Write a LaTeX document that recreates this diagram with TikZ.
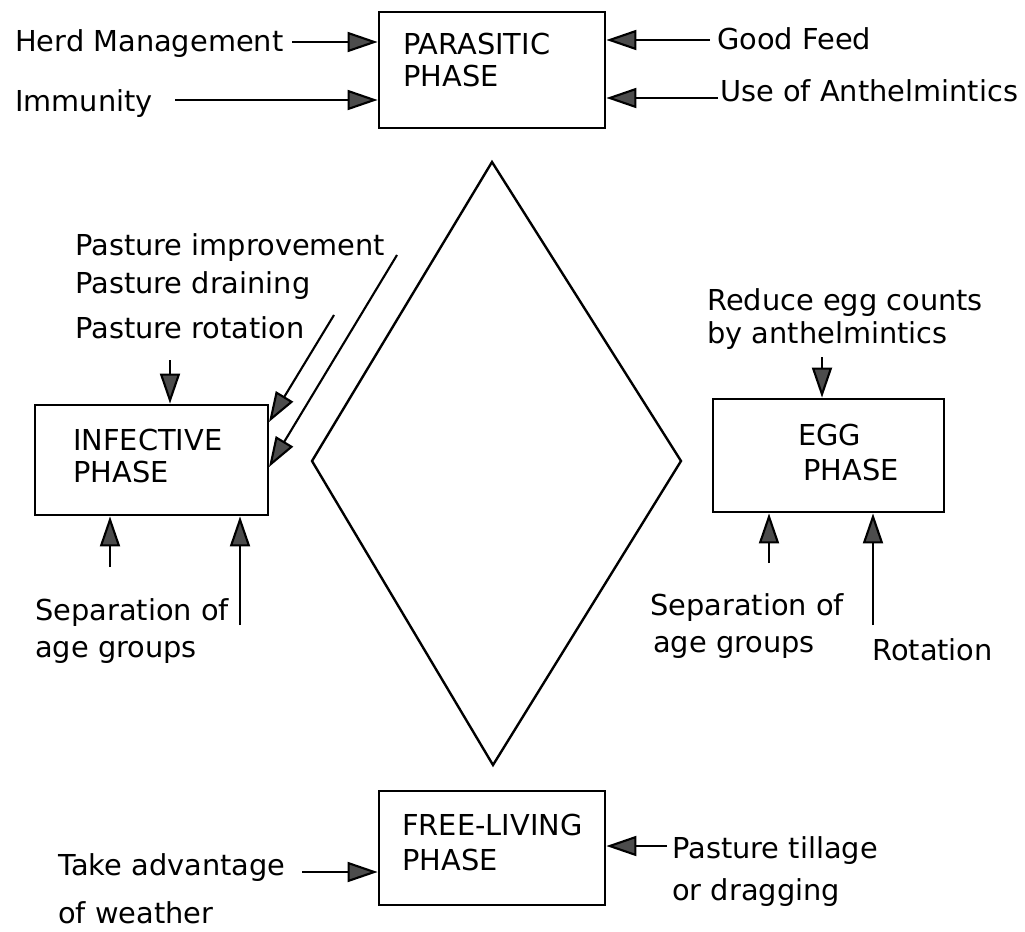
\documentclass[tikz,border=0pt]{standalone}
\usepackage{fontspec}
\setmainfont{DejaVu Sans}
\usetikzlibrary{arrows.meta,fit}
\definecolor{arrowgray}{gray}{0.3}

\begin{document}
\begin{tikzpicture}[
    x = 0.025cm, % one unit per pixel
    y = -0.025cm, % y grows downwards
    font = \fontsize{20.5}{24}\selectfont,
    phasebox/.style = {draw, line width=2pt, inner sep=0pt},
    lbl/.style = {anchor=base west, inner sep=0pt},
    feed/.style = {-{Triangle[length=0.75cm, width=0.5cm, fill=arrowgray]}, line width=1.5pt}
]
\useasboundingbox (0,0) rectangle (1025,932);

% Boxes
\node[phasebox, fit={(379,12) (605,128)}] (par) {};
\node[phasebox, fit={(35,405) (268,515)}] (inf) {};
\node[phasebox, fit={(713,399) (944,512)}] (egg) {};
\node[phasebox, fit={(379,791) (605,905)}] (free) {};

% Box texts
\node[lbl] (partxt1) at (403,55) {PARASITIC};
\node[lbl] (partxt2) at (403,87) {PHASE};
\node[lbl] (inftxt1) at (73,450) {INFECTIVE};
\node[lbl] (inftxt2) at (73,482) {PHASE};
\node[lbl] (eggtxt1) at (798,445) {EGG};
\node[lbl] (eggtxt2) at (803,480) {PHASE};
\node[lbl] (freetxt1) at (402,835) {FREE-LIVING};
\node[lbl] (freetxt2) at (402,870) {PHASE};

% Diamond
\coordinate (dtop) at (492,162);
\coordinate (dright) at (681,461);
\coordinate (dbottom) at (493,765);
\coordinate (dleft) at (312,461);
\draw[line width=1.7pt] (dtop) -- (dright) -- (dbottom) -- (dleft) -- cycle;

% Parasitic phase
\node[lbl] (herd) at (15,52) {Herd Management};
\node[lbl] (immun) at (15,112) {Immunity};
\node[lbl] (feedtxt) at (717,50) {Good Feed};
\node[lbl] (anth) at (720,102) {Use of Anthelmintics};
\coordinate (herdtail) at (292,42);
\coordinate (immuntail) at (175,100);
\coordinate (feedtail) at (710,40);
\coordinate (anthtail) at (718,98);
\draw[feed] (herdtail) -- (herdtail -| par.west);
\draw[feed] (immuntail) -- (immuntail -| par.west);
\draw[feed] (feedtail) -- (feedtail -| par.east);
\draw[feed] (anthtail) -- (anthtail -| par.east);

% Infective phase
\node[lbl] (improve) at (75,255) {Pasture improvement};
\node[lbl] (drain) at (75,293) {Pasture draining};
\node[lbl] (rot) at (75,338) {Pasture rotation};
\node[lbl] (sep1a) at (35,620) {Separation of};
\node[lbl] (sep1b) at (35,657) {age groups};
\coordinate (rottail) at (170,360);
\coordinate (diag1tail) at (334,315);
\coordinate (diag1tip) at (269,422);
\coordinate (diag2tail) at (397,255);
\coordinate (diag2tip) at (269,467);
\coordinate (sep1tail) at (110,567);
\coordinate (sep1longtail) at (240,625);
\draw[feed] (rottail) -- (rottail |- inf.north);
\draw[feed] (diag1tail) -- (diag1tip);
\draw[feed] (diag2tail) -- (diag2tip);
\draw[feed] (sep1tail) -- (sep1tail |- inf.south);
\draw[feed] (sep1longtail) -- (sep1longtail |- inf.south);

% Egg phase
\node[lbl] (reduce) at (707,310) {Reduce egg counts};
\node[lbl] (byanth) at (707,343) {by anthelmintics};
\node[lbl] (sep2a) at (650,615) {Separation of};
\node[lbl] (sep2b) at (653,652) {age groups};
\node[lbl] (rotation) at (872,660) {Rotation};
\coordinate (reducetail) at (822,357);
\coordinate (sep2tail) at (769,563);
\coordinate (rotationtail) at (873,625);
\draw[feed] (reducetail) -- (reducetail |- egg.north);
\draw[feed] (sep2tail) -- (sep2tail |- egg.south);
\draw[feed] (rotationtail) -- (rotationtail |- egg.south);

% Free-living phase
\node[lbl] (weather1) at (58,875) {Take advantage};
\node[lbl] (weather2) at (58,923) {of weather};
\node[lbl] (till1) at (672,858) {Pasture tillage};
\node[lbl] (till2) at (672,900) {or dragging};
\coordinate (weathertail) at (302,872);
\coordinate (tilltail) at (667,846);
\draw[feed] (weathertail) -- (weathertail -| free.west);
\draw[feed] (tilltail) -- (tilltail -| free.east);

\end{tikzpicture}
\end{document}
